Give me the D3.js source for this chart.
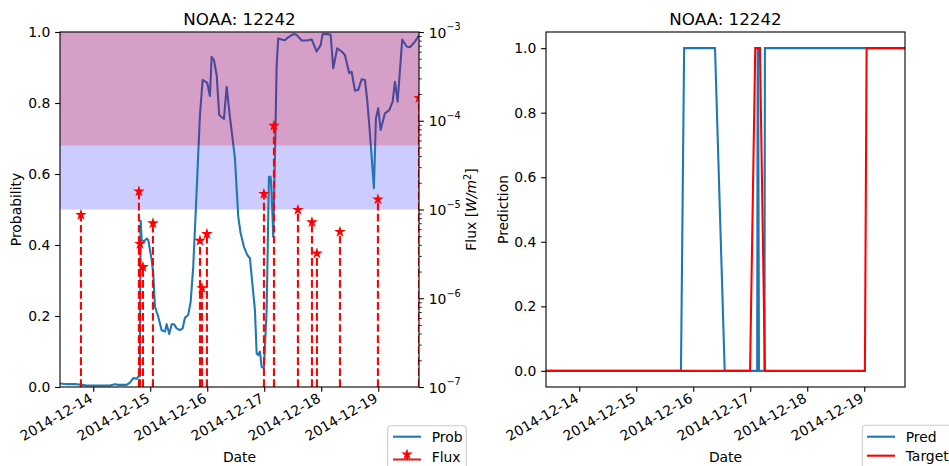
<!DOCTYPE html>
<html>
<head>
<meta charset="utf-8">
<script src="https://cdn.jsdelivr.net/npm/d3@7"></script>
<style>
  body { margin: 0; background: #fff; }
  svg text { font-family: "DejaVu Sans", sans-serif; fill: #000; }
</style>
</head>
<body>
<svg id="chart" width="949" height="466"></svg>
<script>
// ---- data ----
const probTime = [
  "2014-12-13 10:00", "2014-12-13 12:48", "2014-12-13 17:00", "2014-12-13 19:07", "2014-12-13 21:13",
  "2014-12-14 07:02", "2014-12-14 09:08", "2014-12-14 10:32", "2014-12-14 14:04", "2014-12-14 15:27",
  "2014-12-14 16:50", "2014-12-14 18:16", "2014-12-14 18:57", "2014-12-14 19:36", "2014-12-14 19:58",
  "2014-12-14 20:23", "2014-12-14 21:21", "2014-12-14 22:29", "2014-12-14 23:10", "2014-12-15 00:35",
  "2014-12-15 01:16", "2014-12-15 01:59", "2014-12-15 03:22", "2014-12-15 04:48", "2014-12-15 06:11",
  "2014-12-15 06:54", "2014-12-15 08:00", "2014-12-15 09:01", "2014-12-15 09:59", "2014-12-15 11:07",
  "2014-12-15 12:30", "2014-12-15 13:38", "2014-12-15 14:37", "2014-12-15 16:00", "2014-12-15 17:01",
  "2014-12-15 18:06", "2014-12-15 19:15", "2014-12-15 20:13", "2014-12-15 20:56", "2014-12-15 22:04",
  "2014-12-16 00:00", "2014-12-16 01:08", "2014-12-16 01:51", "2014-12-16 02:49", "2014-12-16 03:58",
  "2014-12-16 05:03", "2014-12-16 07:02", "2014-12-16 08:10", "2014-12-16 09:33", "2014-12-16 11:40",
  "2014-12-16 13:03", "2014-12-16 14:04", "2014-12-16 15:27", "2014-12-16 16:50", "2014-12-16 17:59",
  "2014-12-16 19:07", "2014-12-16 20:05", "2014-12-16 20:48", "2014-12-16 21:28", "2014-12-16 22:11",
  "2014-12-16 22:54", "2014-12-16 23:52", "2014-12-17 01:01", "2014-12-17 01:59", "2014-12-17 02:41",
  "2014-12-17 03:07", "2014-12-17 03:47", "2014-12-17 04:30", "2014-12-17 05:13", "2014-12-17 05:53",
  "2014-12-17 07:20", "2014-12-17 08:43", "2014-12-17 10:06", "2014-12-17 12:13", "2014-12-17 13:38",
  "2014-12-17 15:45", "2014-12-17 17:51", "2014-12-17 19:58", "2014-12-17 22:04", "2014-12-17 23:45",
  "2014-12-18 00:35", "2014-12-18 02:57", "2014-12-18 03:58", "2014-12-18 05:03", "2014-12-18 06:44",
  "2014-12-18 08:35", "2014-12-18 09:59", "2014-12-18 11:47", "2014-12-18 12:48", "2014-12-18 14:11",
  "2014-12-18 15:35", "2014-12-18 17:01", "2014-12-18 18:24", "2014-12-18 19:22", "2014-12-18 20:30",
  "2014-12-18 22:11", "2014-12-18 23:02", "2014-12-19 00:00", "2014-12-19 01:01", "2014-12-19 02:49",
  "2014-12-19 04:38", "2014-12-19 06:04", "2014-12-19 07:02", "2014-12-19 08:10", "2014-12-19 10:06",
  "2014-12-19 11:58", "2014-12-19 13:21", "2014-12-19 15:27", "2014-12-19 16:50", "2014-12-19 17:10"
];
const probValue = [
  0.010, 0.008, 0.008, 0.006, 0.004,
  0.004, 0.008, 0.006, 0.006, 0.012,
  0.025, 0.023, 0.029, 0.030, 0.468,
  0.414, 0.410, 0.418, 0.414, 0.358,
  0.320, 0.226, 0.198, 0.160, 0.156,
  0.177, 0.149, 0.177, 0.177, 0.165,
  0.160, 0.165, 0.195, 0.203, 0.240,
  0.339, 0.508, 0.658, 0.766, 0.865,
  0.857, 0.820, 0.930, 0.921, 0.879,
  0.766, 0.755, 0.846, 0.761, 0.644,
  0.480, 0.433, 0.395, 0.372, 0.362,
  0.283, 0.217, 0.095, 0.090, 0.100,
  0.057, 0.053, 0.217, 0.592, 0.592,
  0.546, 0.423, 0.640, 0.902, 0.982,
  0.979, 0.977, 0.985, 0.994, 0.992,
  0.976, 0.976, 0.979, 0.945, 0.963,
  0.994, 0.994, 0.992, 0.898, 0.954,
  0.945, 0.935, 0.884, 0.888, 0.835,
  0.837, 0.867, 0.865, 0.808, 0.715,
  0.560, 0.757, 0.785, 0.724, 0.771,
  0.780, 0.804, 0.860, 0.804, 0.979,
  0.959, 0.957, 0.973, 0.987, 0.990
];

const fluxTime = [
  "2014-12-13 18:49", "2014-12-14 19:14", "2014-12-14 19:40", "2014-12-14 20:56", "2014-12-15 01:08",
  "2014-12-15 20:56", "2014-12-15 21:46", "2014-12-15 23:52", "2014-12-16 23:52", "2014-12-17 04:05",
  "2014-12-17 14:11", "2014-12-17 20:05", "2014-12-17 22:11", "2014-12-18 07:52", "2014-12-18 23:52",
  "2014-12-19 17:10"
];
const fluxValue = [
  8.7e-6, 1.6e-5, 4.1e-6, 2.25e-6, 7.0e-6,
  4.45e-6, 1.3e-6, 5.3e-6, 1.5e-5, 8.8e-5,
  9.9e-6, 7.2e-6, 3.2e-6, 5.6e-6, 1.3e-5,
  1.8e-4
];

const predTime = [
  "2014-12-13 10:00", "2014-12-15 18:50", "2014-12-15 20:10", "2014-12-16 09:10", "2014-12-16 13:15",
  "2014-12-17 02:55", "2014-12-17 03:07", "2014-12-17 03:20", "2014-12-17 03:40", "2014-12-17 06:00",
  "2014-12-17 06:11", "2014-12-19 17:10"
];
const predValue = [0, 0, 1, 1, 0, 0, 1, 1, 0, 0, 1, 1];

const targetTime = [
  "2014-12-13 10:00", "2014-12-16 23:55", "2014-12-17 02:07", "2014-12-17 04:05", "2014-12-17 06:11",
  "2014-12-19 00:17", "2014-12-19 01:00", "2014-12-19 17:10"
];
const targetValue = [0, 0, 1, 1, 0, 0, 1, 1];

const dateTicks = ["2014-12-14", "2014-12-15", "2014-12-16", "2014-12-17", "2014-12-18", "2014-12-19"];
const probTicks = [0, 0.2, 0.4, 0.6, 0.8, 1.0];
const fluxTicks = [1e-7, 1e-6, 1e-5, 1e-4, 1e-3];
const timeRange = ["2014-12-13 10:00", "2014-12-19 17:10"];
const blueBand = [0.5, 0.68];
const pinkBand = [0.68, 1.0];

// ---- setup ----
const parseT = d3.timeParse("%Y-%m-%d %H:%M");
const parseD = d3.timeParse("%Y-%m-%d");
const fmtD = d3.timeFormat("%Y-%m-%d");
const svg = d3.select("#chart");

const FS = 13.9, TICK = 4.86, PAD = 4.86;
const left = {x0: 60, x1: 419, y0: 32, y1: 387};
const right = {x0: 546, x1: 905, y0: 32, y1: 387};

const xL = d3.scaleTime().domain(timeRange.map(parseT)).range([left.x0, left.x1]);
const xR = d3.scaleTime().domain(timeRange.map(parseT)).range([right.x0, right.x1]);
const yProb = d3.scaleLinear().domain([0, 1]).range([left.y1, left.y0]);
const yFlux = d3.scaleLog().domain([1e-7, 1e-3]).range([left.y1, left.y0]);
const yPred = d3.scaleLinear().domain([-0.05, 1.05]).range([right.y1, right.y0]);

const defs = svg.append("defs");
[["clipL", left], ["clipR", right]].forEach(([id, b]) => {
  defs.append("clipPath").attr("id", id).append("rect")
    .attr("x", b.x0).attr("y", b.y0).attr("width", b.x1 - b.x0).attr("height", b.y1 - b.y0);
});

function zip(a, b) { return a.map((d, i) => [parseT(d), b[i]]); }

// ---- left panel ----
const gL = svg.append("g").attr("clip-path", "url(#clipL)");
gL.append("rect")
  .attr("x", left.x0).attr("width", left.x1 - left.x0)
  .attr("y", yProb(blueBand[1])).attr("height", yProb(blueBand[0]) - yProb(blueBand[1]))
  .attr("fill", "#ccccff");

gL.append("path")
  .datum(zip(probTime, probValue))
  .attr("fill", "none").attr("stroke", "#1f77b4").attr("stroke-width", 2.08)
  .attr("stroke-linejoin", "round")
  .attr("d", d3.line().x(d => xL(d[0])).y(d => yProb(d[1])));

gL.append("rect")
  .attr("x", left.x0).attr("width", left.x1 - left.x0)
  .attr("y", yProb(pinkBand[1])).attr("height", yProb(pinkBand[0]) - yProb(pinkBand[1]))
  .attr("fill", "rgb(146,0,108)").attr("fill-opacity", 0.375);

const flux = zip(fluxTime, fluxValue);
gL.selectAll(".stem").data(flux).join("line")
  .attr("class", "stem")
  .attr("x1", d => xL(d[0])).attr("x2", d => xL(d[0]))
  .attr("y1", left.y1).attr("y2", d => yFlux(d[1]))
  .attr("stroke", "red").attr("stroke-width", 2.08).attr("stroke-dasharray", "7.7,3.33");

const star = d3.symbol(d3.symbolStar, 19.5);
gL.selectAll(".star").data(flux).join("path")
  .attr("class", "star")
  .attr("transform", d => `translate(${xL(d[0])},${yFlux(d[1])})`)
  .attr("d", star).attr("fill", "red").attr("stroke", "red").attr("stroke-width", 1.2);

// ---- right panel ----
const gR = svg.append("g").attr("clip-path", "url(#clipR)");
const lineR = d3.line().x(d => xR(d[0])).y(d => yPred(d[1]));
gR.append("path").datum(zip(predTime, predValue))
  .attr("fill", "none").attr("stroke", "#1f77b4").attr("stroke-width", 2.08).attr("d", lineR);
gR.append("path").datum(zip(targetTime, targetValue))
  .attr("fill", "none").attr("stroke", "red").attr("stroke-width", 2.08).attr("d", lineR);

// ---- frames ----
[left, right].forEach(b => {
  svg.append("rect").attr("x", b.x0).attr("y", b.y0)
    .attr("width", b.x1 - b.x0).attr("height", b.y1 - b.y0)
    .attr("fill", "none").attr("stroke", "#000").attr("stroke-width", 1.1);
});

// ---- axes ----
function styleAxis(g) {
  g.select(".domain").remove();
  g.selectAll(".tick line").attr("stroke", "#000").attr("stroke-width", 1.1);
  g.selectAll("text").attr("font-size", FS).attr("font-family", "DejaVu Sans");
  g.attr("font-size", null).attr("font-family", null);
}

function dateAxis(x, y0) {
  const g = svg.append("g").attr("transform", `translate(0,${y0})`)
    .call(d3.axisBottom(x).tickValues(dateTicks.map(parseD)).tickFormat(fmtD)
      .tickSize(TICK).tickPadding(PAD).tickSizeOuter(0));
  styleAxis(g);
  g.selectAll(".tick text")
    .attr("y", null).attr("dy", null)
    .attr("text-anchor", "end")
    .attr("transform", "translate(0,14) rotate(-30)");
}
dateAxis(xL, left.y1);
dateAxis(xR, right.y1);

const gyL = svg.append("g").attr("transform", `translate(${left.x0},0)`)
  .call(d3.axisLeft(yProb).tickValues(probTicks).tickFormat(d3.format(".1f"))
    .tickSize(TICK).tickPadding(PAD).tickSizeOuter(0));
styleAxis(gyL);

const gyR = svg.append("g").attr("transform", `translate(${right.x0},0)`)
  .call(d3.axisLeft(yPred).tickValues(probTicks).tickFormat(d3.format(".1f"))
    .tickSize(TICK).tickPadding(PAD).tickSizeOuter(0));
styleAxis(gyR);

// log axis (twin) with minor ticks
const minor = [];
fluxTicks.slice(0, -1).forEach(t => { for (let m = 2; m < 10; m++) minor.push(t * m); });
const gMinor = svg.append("g").attr("transform", `translate(${left.x1},0)`)
  .call(d3.axisRight(yFlux).tickValues(minor).tickFormat("").tickSize(2.78).tickSizeOuter(0));
gMinor.select(".domain").remove();
gMinor.selectAll(".tick line").attr("stroke", "#000").attr("stroke-width", 0.83);

const gFlux = svg.append("g").attr("transform", `translate(${left.x1},0)`)
  .call(d3.axisRight(yFlux).tickValues(fluxTicks).tickFormat("").tickSize(TICK).tickSizeOuter(0));
styleAxis(gFlux);
gFlux.selectAll(".tick text").remove();
gFlux.selectAll(".tick").append("text")
  .attr("x", TICK + PAD).attr("dy", "0.36em").attr("font-size", FS)
  .each(function(d) {
    const t = d3.select(this);
    t.append("tspan").text("10");
    t.append("tspan").attr("font-size", 9.7).attr("dy", -7.2)
      .text("\u2212" + Math.round(-Math.log10(d)));
  });

// ---- titles and labels ----
[[left, "NOAA: 12242"], [right, "NOAA: 12242"]].forEach(([b, s]) => {
  svg.append("text").attr("x", (b.x0 + b.x1) / 2).attr("y", 25)
    .attr("text-anchor", "middle").attr("font-size", 16.7).text(s);
  svg.append("text").attr("x", (b.x0 + b.x1) / 2).attr("y", 462)
    .attr("text-anchor", "middle").attr("font-size", FS).text("Date");
});

svg.append("text").attr("transform", `translate(21,${(left.y0 + left.y1) / 2}) rotate(-90)`)
  .attr("text-anchor", "middle").attr("font-size", FS).text("Probability");
svg.append("text").attr("transform", `translate(508,${(right.y0 + right.y1) / 2}) rotate(-90)`)
  .attr("text-anchor", "middle").attr("font-size", FS).text("Prediction");

const fluxLab = svg.append("text")
  .attr("transform", `translate(476,${(left.y0 + left.y1) / 2}) rotate(-90)`)
  .attr("text-anchor", "middle").attr("font-size", FS);
fluxLab.append("tspan").text("Flux [");
fluxLab.append("tspan").attr("font-style", "italic").text("W/m");
fluxLab.append("tspan").attr("font-size", 9.7).attr("dy", -5.5).text("2");
fluxLab.append("tspan").attr("dy", 5.5).text("]");

// ---- legends ----
function legendBox(x, y, w) {
  svg.append("rect").attr("x", x).attr("y", y).attr("width", w).attr("height", 60)
    .attr("rx", 3).attr("fill", "#fff").attr("fill-opacity", 0.8)
    .attr("stroke", "#cccccc").attr("stroke-width", 1.1);
}
legendBox(387.7, 425.7, 78.5);
svg.append("line").attr("x1", 393).attr("x2", 421).attr("y1", 436.7).attr("y2", 436.7)
  .attr("stroke", "#1f77b4").attr("stroke-width", 2.08);
svg.append("text").attr("x", 431.7).attr("y", 441.5).attr("font-size", FS).text("Prob");
svg.append("line").attr("x1", 393).attr("x2", 421).attr("y1", 459.5).attr("y2", 459.5)
  .attr("stroke", "#d62728").attr("stroke-width", 2.08);
svg.append("line").attr("x1", 407).attr("x2", 407).attr("y1", 459.5).attr("y2", 454.5)
  .attr("stroke", "red").attr("stroke-width", 2.08);
svg.append("path").attr("transform", "translate(407,454.5)").attr("d", star)
  .attr("fill", "red").attr("stroke", "red").attr("stroke-width", 1.2);
svg.append("text").attr("x", 431.7).attr("y", 461.5).attr("font-size", FS).text("Flux");

legendBox(862.3, 425.2, 110);
svg.append("line").attr("x1", 867).attr("x2", 895).attr("y1", 436.7).attr("y2", 436.7)
  .attr("stroke", "#1f77b4").attr("stroke-width", 2.08);
svg.append("text").attr("x", 905.7).attr("y", 441.5).attr("font-size", FS).text("Pred");
svg.append("line").attr("x1", 867).attr("x2", 895).attr("y1", 455.7).attr("y2", 455.7)
  .attr("stroke", "red").attr("stroke-width", 2.08);
svg.append("text").attr("x", 905.7).attr("y", 460.5).attr("font-size", FS).text("Target");
</script>
</body>
</html>
